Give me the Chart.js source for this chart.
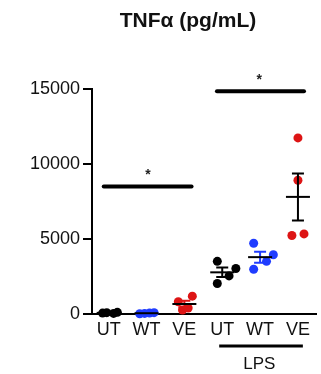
<!DOCTYPE html>
<html>
<head>
<meta charset="utf-8">
<script src="https://cdn.jsdelivr.net/npm/chart.js@4"></script>
<style>
  body { margin: 0; background: #fff; }
  #wrap { width: 321px; height: 374px; }
</style>
</head>
<body>
<div id="wrap"><canvas id="chart1"></canvas></div>
<script>
// data
const groups = ["UT", "WT", "VE", "UT", "WT", "VE"];
const utVals    = [60, 90, 40, 110];
const wtVals    = [20, 40, 60, 90];
const veVals    = [815, 1190, 265, 400];
const lpsUtVals = [3510, 3030, 2540, 2030];
const lpsWtVals = [4720, 3950, 3510, 2980];
const lpsVeVals = [11740, 8920, 5230, 5340];
const yTicks = [0, 5000, 10000, 15000];

// horizontal scatter of the dots, in category units
const utJit    = [-0.16, -0.05, 0.13, 0.23];
const wtJit    = [-0.18, -0.05, 0.08, 0.2];
const veJit    = [-0.16, 0.21, -0.05, 0.1];
const lpsUtJit = [-0.13, 0.36, 0.18, -0.13];
const lpsWtJit = [-0.17, 0.35, 0.17, -0.17];
const lpsVeJit = [0, 0, -0.16, 0.16];

const allVals = [utVals, wtVals, veVals, lpsUtVals, lpsWtVals, lpsVeVals];
const allJit = [utJit, wtJit, veJit, lpsUtJit, lpsWtJit, lpsVeJit];
const dotColors = ["#000000", "#1f3cff", "#dd1414", "#000000", "#1f3cff", "#dd1414"];
const errColors = ["#000000", "#1f3cff", "#dd1414", "#000000", "#1f3cff", "#000000"];

const FONT = "'Liberation Sans', Arial, sans-serif";

function mean(a){ return a.reduce((s,v)=>s+v,0)/a.length; }
function sem(a){
  const m = mean(a);
  const v = a.reduce((s,x)=>s+(x-m)*(x-m),0)/(a.length-1);
  return Math.sqrt(v)/Math.sqrt(a.length);
}

const datasets = allVals.map((vals, g) => ({
  data: vals.map((v, i) => ({x: g + allJit[g][i], y: v})),
  backgroundColor: dotColors[g],
  borderColor: dotColors[g],
  pointRadius: 4.5,
  pointBorderWidth: 0,
  clip: false
}));

// mean + sem bars, title, significance lines
const extras = {
  id: "extras",
  afterDatasetsDraw(chart){
    const ctx = chart.ctx, xs = chart.scales.x, ys = chart.scales.y;
    ctx.save();
    allVals.forEach((vals, g) => {
      const cx = xs.getPixelForValue(g);
      const m = mean(vals), s = sem(vals);
      const yt = ys.getPixelForValue(m + s), yb = ys.getPixelForValue(m - s), ym = ys.getPixelForValue(m);
      ctx.strokeStyle = errColors[g];
      ctx.lineWidth = 2;
      ctx.beginPath();
      ctx.moveTo(cx, yt); ctx.lineTo(cx, yb);
      ctx.moveTo(cx - 6, yt); ctx.lineTo(cx + 6, yt);
      ctx.moveTo(cx - 6, yb); ctx.lineTo(cx + 6, yb);
      ctx.stroke();
      ctx.strokeStyle = "#000";
      ctx.beginPath();
      ctx.moveTo(cx - 12, ym); ctx.lineTo(cx + 12, ym);
      ctx.stroke();
    });

    // significance bars
    ctx.strokeStyle = "#000";
    ctx.lineCap = "round";
    ctx.lineWidth = 4;
    const y1 = ys.getPixelForValue(8500);
    ctx.beginPath();
    ctx.moveTo(xs.getPixelForValue(-0.13), y1);
    ctx.lineTo(xs.getPixelForValue(2.19), y1);
    ctx.stroke();
    const y2 = ys.getPixelForValue(14850);
    ctx.beginPath();
    ctx.moveTo(xs.getPixelForValue(2.86), y2);
    ctx.lineTo(xs.getPixelForValue(5.16), y2);
    ctx.stroke();

    ctx.fillStyle = "#222";
    ctx.font = "bold 14px " + FONT;
    ctx.textAlign = "center";
    ctx.textBaseline = "middle";
    ctx.fillText("*", xs.getPixelForValue(1.04), y1 - 11);
    ctx.fillText("*", xs.getPixelForValue(3.98), y2 - 11);

    // LPS bracket under the axis
    ctx.lineCap = "butt";
    ctx.lineWidth = 3;
    const yl = ys.bottom + 32;
    ctx.beginPath();
    ctx.moveTo(xs.getPixelForValue(2.92), yl);
    ctx.lineTo(xs.getPixelForValue(5.13), yl);
    ctx.stroke();
    ctx.fillStyle = "#111";
    ctx.font = "17px " + FONT;
    ctx.fillText("LPS", xs.getPixelForValue(3.98), yl + 18);

    // title
    ctx.font = "bold 21px " + FONT;
    ctx.fillText("TNFα (pg/mL)", 188, 21);
    ctx.restore();
  }
};

new Chart(document.getElementById("chart1"), {
  type: "scatter",
  data: { datasets },
  plugins: [extras],
  options: {
    responsive: true,
    maintainAspectRatio: false,
    animation: false,
    layout: { padding: { top: 89, right: 0, left: 0, bottom: 0 } },
    plugins: { legend: { display: false }, tooltip: { enabled: false } },
    scales: {
      x: {
        type: "linear",
        min: -0.44,
        max: 5.49,
        afterFit: s => { s.height = 60; },
        afterBuildTicks: s => { s.ticks = groups.map((g, i) => ({value: i})); },
        grid: { display: false },
        border: { display: true, color: "#000", width: 2 },
        ticks: {
          autoSkip: false,
          maxRotation: 0,
          padding: -3,
          color: "#111",
          font: { family: FONT, size: 18 },
          callback: v => groups[v]
        }
      },
      y: {
        min: 0,
        max: 15000,
        afterFit: s => { s.width = 92; },
        afterBuildTicks: s => { s.ticks = yTicks.map(v => ({value: v})); },
        grid: { drawOnChartArea: false, drawTicks: true, tickLength: 9, color: "#000", lineWidth: 2 },
        border: { display: true, color: "#000", width: 2 },
        ticks: {
          padding: 3,
          color: "#111",
          font: { family: FONT, size: 18 },
          callback: v => String(v)
        }
      }
    }
  }
});
</script>
</body>
</html>
